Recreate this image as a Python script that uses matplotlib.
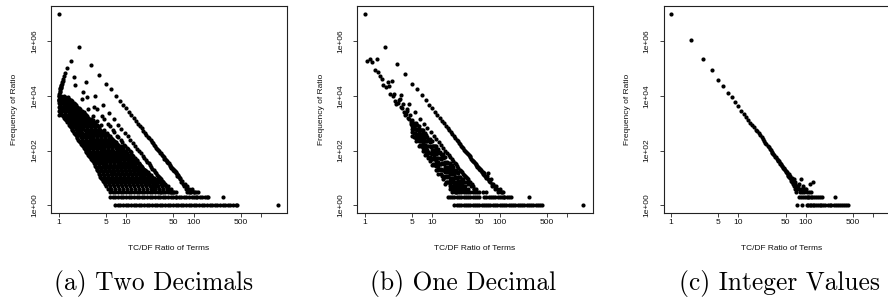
import matplotlib.pyplot as plt

plt.rcParams['font.family'] = ['Liberation Sans', 'DejaVu Sans']

# ---------------- (a) Two Decimals ----------------
# integer ratios (x.00)
a_int_x = [1, 2, 3, 4, 5, 6, 7, 8, 9, 10, 11, 12, 13, 14, 15, 16, 17, 18, 19, 20,
           21, 22, 23, 24, 25, 26, 27, 28, 29, 30, 31, 32, 33, 34, 35, 36, 37, 38, 39, 40,
           41, 42, 43, 44, 45, 46, 47, 48, 49, 50, 51, 52, 53, 54, 55, 56, 57, 58, 59, 60,
           62, 64, 65, 67, 70, 72, 75, 78, 80, 85, 90, 96, 100, 108]
a_int_y = [9300000, 600000, 135000, 59000, 27000, 17000, 9800, 6600, 4600, 3470,
           2570, 1950, 1480, 1180, 950, 775, 650, 528, 445, 380,
           325, 277, 236, 210, 185, 163, 145, 129, 112, 103,
           93, 84, 78, 69, 63, 58, 51, 48, 44, 41,
           38, 35, 34, 30, 28, 26, 24, 23, 21, 20,
           19, 18, 18, 16, 15, 14, 12, 13, 12, 11,
           10, 9, 7, 8, 6, 5, 6, 4, 5, 4, 3, 4, 3, 2]

# half ratios (x.50)
a_half_x = [1.5, 2.5, 3.5, 4.5, 5.5, 6.5, 7.5, 8.5, 9.5, 10.5, 11.5, 12.5, 13.5, 14.5,
            15.5, 16.5, 17.5, 18.5, 19.5, 20.5, 21.5, 22.5, 23.5, 24.5, 25.5, 26.5,
            27.5, 28.5, 29.5, 30.5, 31.5, 32.5, 33.5, 34.5, 35.5, 36.5, 37.5, 38.5,
            39.5, 41.5, 43.5, 45.5, 47.5, 50.5, 55.5]
a_half_y = [190000, 31600, 10000, 4600, 2300, 1400, 890, 630, 450, 330, 250, 190, 148,
            118, 96, 78, 65, 55, 46, 39, 34, 29, 25, 22, 19, 17, 15, 13, 12, 11, 10, 9,
            8, 7, 7, 6, 6, 5, 5, 4, 4, 3, 3, 3, 2]

# thirds (x.33 / x.67)
a_third_x = [1.33, 1.67, 2.33, 2.67, 3.33, 3.67, 4.33, 4.67, 5.33, 5.67, 6.33, 6.67,
             7.33, 7.67, 8.33, 8.67, 9.33, 9.67, 10.33, 10.67, 11.33, 11.67, 12.33,
             12.67, 13.33, 13.67, 14.33, 14.67, 15.33, 15.67, 16.33, 16.67, 17.33,
             17.67, 18.33, 18.67, 19.33, 19.67, 20.33, 21.33, 22.33, 23.33, 24.33,
             25.33, 26.67, 28.33, 30.33, 32.67]
a_third_y = [102000, 48000, 14000, 8700, 4000, 3200, 1800, 1400, 910, 790, 560, 470,
             340, 300, 235, 205, 166, 151, 125, 112, 93, 85, 71, 65, 55, 50, 44, 41,
             35, 33, 29, 27, 24, 22, 20, 19, 17, 16, 14, 12, 11, 9, 8, 7, 6, 5, 4, 3]

# quarters (x.25 / x.75)
a_quarter_x = [1.25, 1.75, 2.25, 2.75, 3.25, 3.75, 4.25, 4.75, 5.25, 5.75, 6.25, 6.75,
               7.25, 7.75, 8.25, 8.75, 9.25, 9.75, 10.25, 10.75, 11.25, 11.75, 12.25,
               12.75, 13.25, 13.75, 14.25, 14.75, 15.25, 15.75, 16.25, 17.25, 18.25,
               19.25, 20.25, 21.75, 23.25, 25.25]
a_quarter_y = [66000, 25000, 7900, 3300, 1900, 1200, 850, 575, 425, 340, 260, 200,
               158, 129, 107, 89, 76, 63, 58, 49, 43, 37, 33, 29, 26, 23, 21, 19, 17,
               15, 14, 12, 10, 8, 7, 6, 5, 4]

# ratios just above one
a_arc_x = [1.2, 1.17, 1.14, 1.13, 1.11, 1.1, 1.09, 1.08, 1.07, 1.06, 1.05, 1.04, 1.03,
           1.02, 1.01, 1.01, 1.01]
a_arc_y = [52000, 42000, 35000, 31000, 28000, 25000, 23000, 21000, 20000, 18600, 17500,
           15500, 14000, 12000, 10000, 6900, 1950]

# the dense cloud of all other ratios, one row of ratios per frequency
a_blob_counts = [10000, 7900, 6300, 5000, 4000, 3200, 2500, 2000, 1600, 1260, 1000, 800,
                 630, 500, 400, 316, 250, 200, 158, 126, 100, 79, 63, 50, 40, 32, 25,
                 20, 16, 13, 10, 9, 8, 7, 6, 5, 4]
a_blob_rows = [
    [1.0, 1.08, 1.18],
    [1.02, 1.14, 1.3, 1.42],
    [1.0, 1.1, 1.24, 1.4, 1.58],
    [1.04, 1.18, 1.34, 1.52, 1.75],
    [1.0, 1.12, 1.27, 1.45, 1.65, 1.9],
    [1.05, 1.2, 1.37, 1.56, 1.8, 2.1],
    [1.06, 1.22, 1.4, 1.6, 1.82, 2.08, 2.38],
    [1.13, 1.3, 1.48, 1.7, 1.95, 2.22, 2.55],
    [1.2, 1.37, 1.57, 1.8, 2.05, 2.35, 2.7],
    [1.3, 1.48, 1.7, 1.94, 2.22, 2.55, 2.92, 3.2],
    [1.4, 1.6, 1.83, 2.1, 2.4, 2.75, 3.1, 3.5],
    [1.48, 1.7, 1.95, 2.23, 2.55, 2.9, 3.3, 3.8],
    [1.55, 1.78, 2.04, 2.33, 2.67, 3.05, 3.5, 4.0],
    [1.65, 1.9, 2.17, 2.5, 2.85, 3.27, 3.75, 4.3],
    [1.75, 2.0, 2.3, 2.63, 3.0, 3.45, 3.95, 4.5, 5.1],
    [1.85, 2.12, 2.43, 2.8, 3.2, 3.65, 4.2, 4.8, 5.5],
    [1.95, 2.24, 2.57, 2.95, 3.37, 3.86, 4.42, 5.05, 5.8, 6.3],
    [2.08, 2.4, 2.75, 3.15, 3.6, 4.12, 4.7, 5.4, 6.2, 7.0],
    [2.2, 2.52, 2.88, 3.3, 3.78, 4.33, 4.95, 5.7, 6.5, 7.5],
    [2.35, 2.7, 3.1, 3.55, 4.05, 4.65, 5.3, 6.1, 7.0, 8.0, 8.7],
    [2.5, 2.86, 3.27, 3.75, 4.3, 4.9, 5.6, 6.45, 7.4, 8.45, 9.5],
    [2.65, 3.05, 3.5, 4.0, 4.6, 5.25, 6.0, 6.9, 7.9, 9.0, 10.3],
    [2.8, 3.2, 3.67, 4.2, 4.8, 5.5, 6.3, 7.25, 8.3, 9.5, 10.9, 11.5],
    [3.0, 3.44, 3.94, 4.5, 5.17, 5.9, 6.8, 7.8, 8.9, 10.2, 11.7, 12.8],
    [3.2, 3.66, 4.2, 4.8, 5.5, 6.3, 7.2, 8.25, 9.45, 10.8, 12.4, 14.0],
    [3.4, 3.9, 4.47, 5.1, 5.85, 6.7, 7.7, 8.8, 10.1, 11.6, 13.3, 15.3],
    [3.6, 4.13, 4.73, 5.42, 6.2, 7.1, 8.15, 9.35, 10.7, 12.3, 14.1, 16.2, 17.0],
    [3.75, 4.3, 4.93, 5.65, 6.47, 7.4, 8.5, 9.75, 11.2, 12.8, 14.7, 16.8, 19.0],
    [3.9, 4.47, 5.12, 5.87, 6.72, 7.7, 8.83, 10.1, 11.6, 13.3, 15.2, 17.5, 20.0, 21.0],
    [4.05, 4.64, 5.32, 6.1, 7.0, 8.0, 9.2, 10.5, 12.05, 13.8, 15.8, 18.1, 20.8, 23.5],
    [4.2, 4.8, 5.5, 6.3, 7.25, 8.3, 9.5, 10.9, 12.5, 14.3, 16.4, 18.8, 21.5, 24.6, 26.0],
    [4.4, 5.05, 5.8, 6.65, 7.6, 8.7, 10.0, 11.45, 13.1, 15.0, 17.2, 19.7, 22.6, 25.9, 29.0],
    [4.6, 5.25, 6.0, 6.9, 7.9, 9.05, 10.4, 11.9, 13.6, 15.6, 17.9, 20.5, 23.5, 26.9, 30.8, 32.0],
    [4.7, 5.4, 6.2, 7.1, 8.1, 9.3, 10.7, 12.2, 14.0, 16.0, 18.4, 21.1, 24.2, 27.7, 31.7, 35.0],
    [4.85, 5.55, 6.35, 7.3, 8.35, 9.55, 10.95, 12.55, 14.4, 16.5, 18.9, 21.6, 24.8, 28.4, 32.5, 37.0],
    [5.0, 5.7, 6.55, 7.5, 8.6, 9.85, 11.3, 12.9, 14.8, 17.0, 19.4, 22.3, 25.5, 29.2, 33.5, 38.4, 42.0],
    [5.3, 6.05, 6.95, 7.95, 9.1, 10.45, 12.0, 13.7, 15.7, 18.0, 20.6, 23.6, 27.0, 30.9, 35.4, 40.6, 46.0],
]
a_blob2_counts = [8900, 7100, 5600, 4500, 3550, 2800, 2240, 1780, 1410, 1120, 890, 710,
                  560, 450, 355, 280, 224, 178, 141, 112, 89, 71, 56, 45, 35, 28, 22,
                  18, 14, 11]
a_blob2_rows = [
    [1.04, 1.12, 1.24, 1.36],
    [1.0, 1.07, 1.19, 1.33, 1.5],
    [1.02, 1.14, 1.29, 1.46, 1.66],
    [1.06, 1.2, 1.36, 1.55, 1.78],
    [1.03, 1.16, 1.31, 1.5, 1.72, 2.0],
    [1.02, 1.12, 1.29, 1.48, 1.7, 1.95, 2.24],
    [1.1, 1.26, 1.44, 1.65, 1.88, 2.15, 2.46],
    [1.17, 1.33, 1.52, 1.75, 2.0, 2.28, 2.62],
    [1.25, 1.43, 1.63, 1.87, 2.13, 2.45, 2.8, 3.05],
    [1.35, 1.54, 1.76, 2.02, 2.31, 2.65, 3.0, 3.35],
    [1.44, 1.65, 1.89, 2.16, 2.47, 2.82, 3.2, 3.65],
    [1.52, 1.74, 2.0, 2.28, 2.61, 2.98, 3.4, 3.9],
    [1.6, 1.84, 2.1, 2.42, 2.76, 3.16, 3.62, 4.15],
    [1.7, 1.95, 2.23, 2.56, 2.92, 3.36, 3.85, 4.4, 4.8],
    [1.8, 2.06, 2.36, 2.71, 3.1, 3.55, 4.07, 4.65, 5.3],
    [1.9, 2.18, 2.5, 2.87, 3.28, 3.75, 4.3, 4.92, 5.65, 6.0],
    [2.0, 2.32, 2.66, 3.05, 3.48, 3.99, 4.56, 5.22, 6.0, 6.6],
    [2.14, 2.46, 2.81, 3.22, 3.69, 4.22, 4.82, 5.55, 6.35, 7.2],
    [2.28, 2.61, 2.99, 3.42, 3.91, 4.49, 5.12, 5.9, 6.75, 7.75, 8.3],
    [2.42, 2.78, 3.18, 3.65, 4.17, 4.77, 5.45, 6.27, 7.2, 8.2, 9.1],
    [2.57, 2.95, 3.38, 3.87, 4.45, 5.07, 5.8, 6.67, 7.65, 8.72, 9.9],
    [2.72, 3.12, 3.58, 4.1, 4.7, 5.37, 6.15, 7.07, 8.1, 9.25, 10.6, 11.2],
    [2.9, 3.32, 3.8, 4.35, 4.98, 5.7, 6.55, 7.52, 8.6, 9.85, 11.3, 12.2],
    [3.1, 3.55, 4.07, 4.65, 5.33, 6.1, 7.0, 8.02, 9.17, 10.5, 12.05, 13.4],
    [3.3, 3.78, 4.33, 4.95, 5.67, 6.5, 7.45, 8.52, 9.77, 11.2, 12.85, 14.6],
    [3.5, 4.01, 4.6, 5.26, 6.02, 6.9, 7.92, 9.07, 10.4, 11.95, 13.7, 15.7, 16.6],
    [3.67, 4.21, 4.83, 5.53, 6.33, 7.25, 8.32, 9.55, 10.95, 12.55, 14.4, 16.5, 18.0],
    [3.82, 4.38, 5.02, 5.76, 6.6, 7.55, 8.66, 9.92, 11.4, 13.05, 14.95, 17.15, 19.5],
    [3.97, 4.55, 5.22, 5.98, 6.86, 7.85, 9.0, 10.3, 11.8, 13.55, 15.5, 17.8, 20.4, 22.2],
    [4.12, 4.72, 5.41, 6.2, 7.12, 8.15, 9.35, 10.7, 12.3, 14.05, 16.1, 18.45, 21.15, 24.0],
]
# ratios seen only three, two or one times
a_row3_x = [5.8, 6.35, 6.95, 7.6, 8.3, 9.1, 10.0, 10.9, 11.9, 13.0, 14.3, 15.6, 17.1, 18.7,
            20.4, 22.3, 24.4, 26.7, 29.2, 32.0, 35.0, 38.3, 41.9, 45.8, 50.1, 54.8,
            80, 86, 93, 100, 108, 116]
a_row2_x = [5.8, 6.35, 6.95, 7.6, 8.3, 9.1, 10.0, 10.9, 11.9, 13.0, 14.3, 15.6, 17.1, 18.7,
            20.4, 22.3, 24.4, 26.7, 29.2, 32.0, 35.0, 38.3, 41.9, 45.8, 50.1, 54.8, 60.0,
            65.6, 71.8, 78.5, 85.9, 94.0, 103, 112, 123, 135, 147, 160, 166, 275]
a_row1_x = [6.9, 7.55, 8.25, 9.0, 9.9, 10.8, 11.8, 12.9, 14.1, 15.4, 16.9, 18.5, 20.2, 22.1,
            24.2, 26.4, 28.9, 31.6, 34.6, 37.8, 41.3, 45.2, 49.4, 54.0, 59.1, 64.6, 70.6,
            77.2, 84.5, 92.4, 101, 110, 121, 132, 144, 158, 173, 189, 206, 226, 247, 270,
            295, 322, 353, 385, 421, 446, 1780]

# ---------------- (b) One Decimal ----------------
b_int_x = [1, 2, 3, 4, 5, 6, 7, 8, 9, 10, 11, 12, 13, 14, 15, 16, 17, 18, 19, 20,
           21, 22, 23, 24, 25, 26, 27, 28, 29, 30, 31, 32, 33, 34, 35, 36, 37, 38, 39, 40,
           41, 42, 43, 44, 45, 46, 47, 48, 49, 50, 51, 52, 53, 54, 55, 56, 57, 58, 59, 60,
           62, 63, 65, 67, 68, 70, 72, 74, 76, 78, 80, 83, 86, 90, 93, 96, 100, 104, 108,
           112, 116]
b_int_y = [9300000, 600000, 140000, 60000, 27500, 17400, 10500, 6800, 4800, 3600,
           2650, 2050, 1550, 1230, 990, 800, 680, 550, 465, 400,
           340, 290, 250, 220, 195, 170, 152, 135, 120, 108,
           98, 88, 81, 73, 67, 61, 56, 51, 47, 43,
           40, 37, 36, 32, 30, 28, 26, 25, 23, 22,
           21, 19, 20, 17, 16, 16, 14, 15, 13, 12,
           11, 10, 12, 15, 9, 8, 7, 9, 6, 5, 6, 5, 4, 5, 4, 3, 4, 3, 3, 3, 2]

b_half_x = [1.5, 2.5, 3.5, 4.5, 5.5, 6.5, 7.5, 8.5, 9.5, 10.5, 11.5, 12.5, 13.5, 14.5,
            15.5, 16.5, 17.5, 18.5, 19.5, 20.5, 21.5, 22.5, 23.5, 24.5, 25.5, 26.5,
            27.5, 28.5, 29.5, 30.5, 31.5, 32.5, 33.5, 34.5, 35.5, 36.5, 38.5, 40.5,
            42.5, 45.5]
b_half_y = [220000, 34000, 11000, 5100, 2500, 1400, 960, 680, 480, 350, 265, 205, 160,
            125, 100, 82, 68, 58, 49, 42, 36, 31, 27, 23, 20, 18, 16, 14, 13, 12, 11,
            10, 9, 8, 7, 7, 6, 5, 4, 4]

# other one-decimal ratios below 5
b_band_x = [1.1, 1.2, 1.3, 1.4, 1.6, 1.7, 1.8, 1.9, 2.1, 2.2, 2.3, 2.4, 2.6, 2.7, 2.8,
            2.9, 3.1, 3.2, 3.3, 3.4, 3.6, 3.7, 3.8, 3.9, 4.1, 4.2, 4.3, 4.4, 4.6, 4.7,
            4.8, 4.9]
b_band_y = [186000, 214000, 170000, 91000, 72000, 52000, 40000, 24500, 21000, 31600,
            22400, 11700, 10000, 11500, 6300, 5000, 5600, 7100, 7900, 4000, 3500, 5000,
            2500, 2000, 2200, 2800, 3200, 1600, 1400, 2000, 1100, 900]

# dense part of the band: frequencies seen at each ratio column
b_cloud_x = [5.1, 5.4, 5.6, 5.8, 6.0, 6.3, 6.5, 6.8, 7.0, 7.3, 7.6, 7.9, 8.2, 8.4, 8.8,
             9.2, 9.5, 9.9, 10.3, 10.7, 11.1, 11.6, 12.0, 12.4, 12.9, 13.4, 13.9, 14.4,
             15.0, 15.6, 16.1, 16.7, 17.4, 18.1, 18.7, 19.4, 20.2, 21.1, 21.8, 22.6,
             23.5, 24.4, 25.3, 26.3, 27.3, 28.4, 31.2, 34.6, 38.2, 42.1]
b_cloud_counts = [
    [1350, 1050, 795, 617, 468, 331],
    [1050, 776, 589, 447, 324],
    [923, 631, 436, 302],
    [1000, 832, 617, 398, 288, 229],
    [851, 562, 380, 257],
    [794, 589, 427, 316, 229, 151],
    [575, 372, 245, 158],
    [575, 407, 288, 214, 141],
    [562, 363, 234, 148],
    [550, 447, 309, 186, 129, 98],
    [372, 234, 148, 93],
    [436, 309, 214, 155, 107, 66],
    [363, 224, 138, 87],
    [316, 214, 151, 105, 68],
    [234, 145, 89, 55],
    [263, 209, 141, 83, 58, 43],
    [219, 135, 83, 51],
    [214, 151, 102, 72, 49, 30],
    [145, 89, 54, 33],
    [151, 102, 69, 48, 30],
    [145, 87, 52, 32],
    [141, 110, 74, 42, 28, 20],
    [93, 55, 33, 20],
    [115, 79, 52, 37, 25, 14],
    [91, 54, 32, 19],
    [76, 49, 33, 22, 14],
    [58, 34, 20, 12],
    [72, 55, 35, 19, 12, 9],
    [56, 33, 19, 11],
    [56, 38, 25, 17, 11, 6],
    [36, 21, 12, 7],
    [38, 25, 16, 11, 7],
    [35, 21, 12, 7],
    [35, 28, 18, 10, 6, 4],
    [23, 14, 8, 5],
    [30, 20, 14, 10, 7, 4],
    [25, 15, 9, 5],
    [20, 14, 10, 6, 4],
    [17, 11, 7, 4],
    [19, 16, 11, 7, 5, 3],
    [16, 10, 6, 4],
    [15, 11, 8, 6, 5, 4],
    [11, 7, 5, 4],
    [11, 8, 6, 5, 4],
    [9, 6, 4],
    [9, 7, 5, 4],
    [7, 5, 4],
    [6, 4],
    [5],
    [4],
]

b_row3_x = [20.0, 21.6, 23.3, 25.2, 27.2, 29.4, 31.7, 34.2, 37.0, 39.9, 43.1, 46.6, 50.3,
            56, 64]
b_row2_x = [17.0, 18.4, 19.8, 21.4, 23.1, 25.0, 27.0, 29.2, 31.5, 34.0, 36.8, 39.7, 42.9,
            46.3, 50.0, 59.0, 63.7, 68.8, 74.3, 80.2, 86.6, 93.6, 101, 109, 118, 127, 138,
            149, 276]
b_row1_x = [21.4, 23.1, 25.0, 27.0, 29.2, 31.5, 34.0, 36.8, 39.7, 42.9, 46.3, 50.0, 54.0,
            58.3, 63.0, 68.0, 73.4, 79.3, 85.7, 92.5, 99.9, 108, 117, 126, 136, 147, 159,
            171, 185, 200, 216, 233, 252, 272, 294, 317, 342, 370, 399, 431, 1750]

# ---------------- (c) Integer Values ----------------
c_line_x = [1, 2, 3, 4, 5, 6, 7, 8, 9, 10, 11, 12, 13, 14, 15, 16, 17, 18, 19, 20,
            21, 22, 23, 24, 25, 26, 27, 28, 29, 30, 31, 32, 33, 34, 35, 36, 37, 38, 39, 40,
            41, 42, 43, 44, 45, 46, 47, 48, 49, 50, 51, 52, 53, 54, 55, 56, 57, 58, 59, 60,
            61, 62, 63, 64, 65, 66, 67, 68, 69, 70, 71, 72, 73]
c_line_y = [9300000, 1050000, 220000, 85000, 38000, 22000, 13000, 8700, 5900, 4200,
            2800, 2200, 1700, 1350, 1050, 850, 700, 580, 500, 430,
            360, 300, 260, 225, 195, 170, 150, 135, 118, 105,
            92, 84, 74, 68, 60, 56, 50, 47, 43, 40,
            36, 33, 31, 28, 27, 24, 23, 21, 19, 18,
            17, 15, 16, 13, 12, 14, 11, 10, 12, 9,
            8, 10, 7, 8, 6, 9, 5, 7, 4, 6, 5, 3, 4]
c_tail_x = [76, 78, 80, 82, 84, 86, 88, 90, 92, 95, 98, 100, 105, 110, 115, 120, 129]
c_tail_y = [5, 4, 6, 3, 4, 9, 3, 5, 4, 3, 4, 4, 3, 3, 6, 3, 7]
c_row2_x = [79, 85, 91, 97, 103, 108, 112, 118, 125, 131, 140, 150, 160, 172, 270]
c_row1_x = [73, 87, 103, 108, 114, 120, 127, 134, 142, 150, 160, 170, 182, 195, 210, 225,
            240, 260, 280, 300, 320, 345, 370, 400, 427, 1780]

captions = ['(a) Two Decimals', '(b) One Decimal', '(c) Integer Values']


def collect(pairs, rows, cols=()):
    xs, ys = [], []
    for px, py in pairs:
        xs += px
        ys += py
    for cnt, row in rows:          # one frequency, many ratios
        xs += row
        ys += [cnt] * len(row)
    for x, counts in cols:         # one ratio column, several frequencies
        xs += [x] * len(counts)
        ys += counts
    return xs, ys


panel_a = collect([(a_int_x, a_int_y), (a_half_x, a_half_y), (a_third_x, a_third_y),
                   (a_quarter_x, a_quarter_y), (a_arc_x, a_arc_y)],
                  list(zip(a_blob_counts, a_blob_rows)) +
                  list(zip(a_blob2_counts, a_blob2_rows)) +
                  [(3, a_row3_x), (2, a_row2_x), (1, a_row1_x)])
panel_b = collect([(b_int_x, b_int_y), (b_half_x, b_half_y), (b_band_x, b_band_y)],
                  [(3, b_row3_x), (2, b_row2_x), (1, b_row1_x)],
                  zip(b_cloud_x, b_cloud_counts))
panel_c = collect([(c_line_x, c_line_y), (c_tail_x, c_tail_y)],
                  [(2, c_row2_x), (1, c_row1_x)])

W, H = 888, 299
fig = plt.figure(figsize=(W / 100, H / 100), dpi=100)

lefts = [51.2, 357.2, 663.5]
cap_x = [154, 463.5, 779]
box = '#222222'

for i, (xs, ys) in enumerate([panel_a, panel_b, panel_c]):
    ax = fig.add_axes([lefts[i] / W, 1 - 213.3 / H, 235.5 / W, 207.3 / H])
    ax.plot(xs, ys, 'o', color='black', ms=3.0, mew=0, linestyle='none')
    ax.set_xscale('log')
    ax.set_yscale('log')
    ax.set_xlim(0.774, 2407)
    ax.set_ylim(0.51, 1.9e7)
    ax.set_xticks([1, 5, 10, 50, 100, 500, 1000])
    ax.set_xticklabels(['1', '5', '10', '50', '100', '500', ''])
    ax.set_yticks([1, 1e2, 1e4, 1e6])
    ax.set_yticklabels(['1e+00', '1e+02', '1e+04', '1e+06'], rotation=90, va='center')
    ax.minorticks_off()
    for s in ax.spines.values():
        s.set_color(box)
        s.set_linewidth(0.8)
    ax.tick_params(axis='both', direction='out', length=3, width=0.6, color=box,
                   labelsize=6, labelcolor='#111111')
    ax.tick_params(axis='x', pad=0.8)
    ax.tick_params(axis='y', pad=6.5)

    cx = (lefts[i] + 235.5 / 2) / W
    fig.text(cx, 1 - 248 / H, 'TC/DF Ratio of Terms', ha='center', va='center',
             fontsize=6, color='#111111')
    fig.text((lefts[i] - 36.2) / W, 1 - 109.7 / H, 'Frequency of Ratio', ha='center',
             va='center', rotation=90, fontsize=6, color='#111111')
    fig.text(cap_x[i] / W, 1 - 290 / H, captions[i], ha='center', va='baseline',
             family='cmr10', fontsize=18.3)

fig.savefig('out.png', dpi=100)
